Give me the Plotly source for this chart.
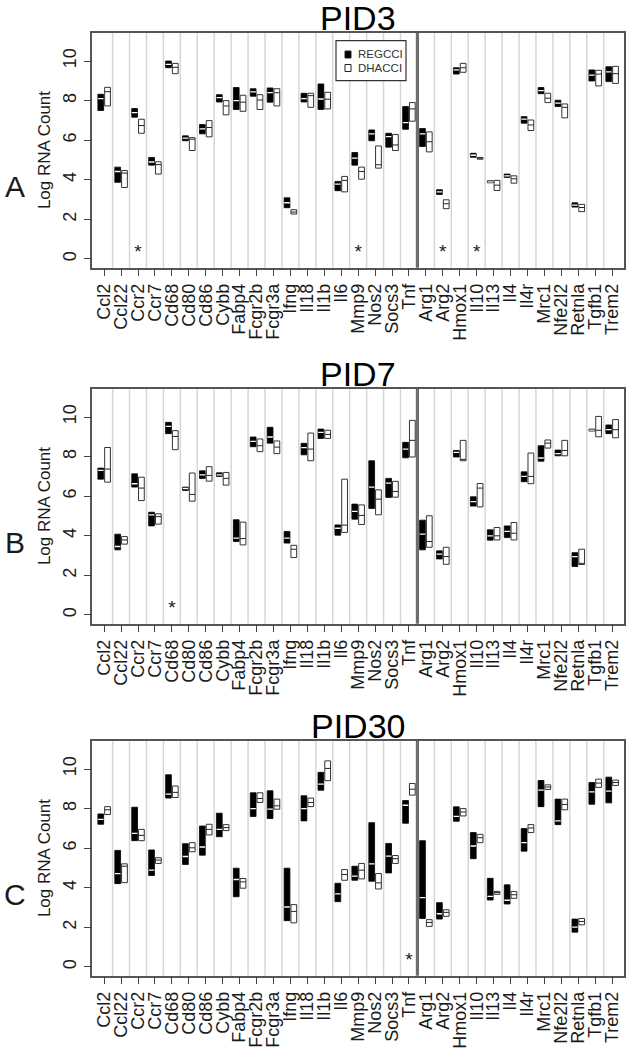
import plotly.graph_objects as go

genes = ["Ccl2", "Ccl22", "Ccr2", "Ccr7", "Cd68", "Cd80", "Cd86", "Cybb", "Fabp4",
         "Fcgr2b", "Fcgr3a", "Ifng", "Il18", "Il1b", "Il6", "Mmp9", "Nos2", "Socs3",
         "Tnf", "Arg1", "Arg2", "Hmox1", "Il10", "Il13", "Il4", "Il4r", "Mrc1",
         "Nfe2l2", "Retnla", "Tgfb1", "Trem2"]
n_m1 = 19  # genes left of the separator

# PID3
pid3_reg_low = [7.50, 3.87, 7.16, 4.74, 9.66, 5.97, 6.32, 7.93, 7.55, 8.22, 7.92, 2.59, 7.93, 7.55, 3.45, 4.74, 5.97, 5.65, 6.55, 5.68, 3.26, 9.34, 5.14, 3.85, 4.12, 6.86, 8.35, 7.70, 2.62, 8.99, 8.96]
pid3_reg_med = [8.10, 4.42, 7.39, 4.90, 9.83, 6.10, 6.57, 8.15, 8.00, 8.44, 8.40, 2.84, 8.10, 8.08, 3.78, 5.09, 6.32, 6.18, 6.89, 6.32, 3.39, 9.55, 5.24, 3.90, 4.20, 7.06, 8.50, 7.87, 2.72, 9.29, 9.45]
pid3_reg_high = [8.32, 4.64, 7.60, 5.13, 10.00, 6.22, 6.79, 8.30, 8.66, 8.60, 8.64, 3.09, 8.37, 8.84, 3.92, 5.38, 6.52, 6.35, 7.70, 6.59, 3.50, 9.66, 5.34, 3.95, 4.29, 7.19, 8.66, 8.02, 2.84, 9.55, 9.71]
pid3_dha_low = [7.73, 3.61, 6.35, 4.29, 9.36, 5.48, 6.17, 7.28, 7.46, 7.55, 7.73, 2.27, 7.66, 7.58, 3.39, 4.03, 4.59, 5.48, 6.96, 5.41, 2.54, 9.43, 5.04, 3.46, 3.83, 6.49, 7.90, 7.13, 2.39, 8.74, 8.87]
pid3_dha_med = [8.45, 4.34, 6.74, 4.77, 9.68, 6.05, 6.64, 7.73, 7.92, 8.03, 8.40, 2.37, 8.25, 8.07, 3.97, 4.42, 4.76, 5.76, 7.58, 5.92, 2.79, 9.66, 5.09, 3.73, 4.05, 6.77, 8.12, 7.66, 2.60, 9.34, 9.36]
pid3_dha_high = [8.67, 4.47, 7.06, 4.91, 9.88, 6.13, 6.99, 8.00, 8.27, 8.30, 8.60, 2.49, 8.37, 8.42, 4.17, 4.64, 5.71, 6.29, 7.90, 6.42, 2.99, 9.88, 5.13, 3.97, 4.20, 7.02, 8.37, 7.83, 2.76, 9.53, 9.73]
pid3_stars = ["Ccr2", "Mmp9", "Arg2", "Il10"]

# PID7
pid7_reg_low = [6.86, 3.29, 6.46, 4.50, 9.16, 6.29, 6.90, 7.00, 3.71, 8.50, 8.68, 3.63, 8.09, 8.92, 4.03, 4.84, 5.38, 5.94, 7.94, 3.29, 2.83, 7.98, 5.50, 3.78, 3.91, 6.73, 7.77, 8.04, 2.45, 9.29, 9.16]
pid7_reg_med = [7.30, 3.46, 6.63, 5.06, 9.53, 6.39, 7.08, 7.08, 3.88, 8.77, 8.99, 3.88, 8.45, 9.22, 4.38, 5.23, 6.46, 6.66, 8.38, 4.08, 3.07, 8.21, 5.73, 4.00, 4.22, 7.00, 7.93, 8.15, 2.95, 9.34, 9.36]
pid7_reg_high = [7.42, 4.08, 7.13, 5.19, 9.73, 6.46, 7.28, 7.18, 4.81, 8.99, 9.48, 4.22, 8.67, 9.39, 4.55, 5.60, 7.79, 6.90, 8.72, 4.79, 3.24, 8.31, 5.97, 4.30, 4.50, 7.23, 8.55, 8.33, 3.15, 9.39, 9.60]
pid7_dha_low = [6.71, 3.58, 5.78, 4.59, 8.35, 5.75, 6.76, 6.56, 3.54, 8.25, 8.15, 2.90, 7.79, 8.92, 4.17, 4.57, 5.06, 5.95, 7.98, 3.42, 2.56, 7.79, 5.46, 3.79, 3.79, 6.63, 8.43, 8.04, 2.55, 9.00, 8.95]
pid7_dha_med = [7.37, 3.79, 6.41, 4.97, 9.02, 6.09, 7.05, 6.90, 3.86, 8.55, 8.48, 3.32, 8.38, 9.12, 4.54, 5.03, 5.85, 6.24, 8.82, 3.71, 2.95, 7.86, 6.41, 4.00, 4.13, 7.00, 8.68, 8.31, 2.61, 9.33, 9.36]
pid7_dha_high = [8.46, 3.96, 6.96, 5.11, 9.31, 7.17, 7.49, 7.20, 4.69, 8.89, 8.79, 3.52, 9.19, 9.33, 6.86, 5.56, 6.32, 6.75, 9.83, 5.01, 3.42, 8.82, 6.64, 4.42, 4.67, 8.18, 8.84, 8.82, 3.32, 10.03, 9.87]
pid7_stars = ["Cd68"]

# PID30
pid30_reg_low = [7.21, 4.21, 6.38, 4.62, 8.53, 5.18, 5.65, 6.58, 3.55, 7.60, 7.50, 2.34, 7.38, 8.93, 3.30, 4.38, 4.33, 4.75, 7.26, 2.45, 2.42, 7.36, 5.47, 3.38, 3.18, 5.85, 8.10, 7.19, 1.76, 8.22, 8.29]
pid30_reg_med = [7.46, 4.72, 6.75, 4.89, 8.73, 5.58, 6.06, 6.95, 4.42, 8.00, 7.97, 3.03, 8.00, 9.24, 3.69, 4.59, 5.21, 5.60, 8.17, 3.50, 2.69, 7.61, 6.11, 3.57, 3.37, 6.28, 8.93, 7.38, 2.01, 8.85, 8.88]
pid30_reg_high = [7.73, 5.89, 8.07, 5.91, 9.71, 6.23, 7.12, 7.77, 4.99, 8.80, 8.90, 4.99, 8.65, 9.83, 4.23, 5.09, 7.29, 6.24, 8.41, 6.38, 3.25, 8.09, 6.79, 4.48, 4.15, 6.99, 9.42, 8.48, 2.42, 9.32, 9.59]
pid30_dha_low = [7.70, 4.26, 6.38, 5.23, 8.56, 5.82, 6.67, 6.89, 3.98, 8.31, 7.97, 2.23, 8.10, 9.41, 4.38, 4.45, 3.94, 5.23, 8.68, 2.05, 2.56, 7.63, 6.28, 3.67, 3.47, 6.79, 8.97, 7.94, 2.13, 9.07, 9.17]
pid30_dha_med = [7.94, 5.09, 6.65, 5.40, 8.82, 6.02, 6.95, 7.04, 4.30, 8.51, 8.14, 2.81, 8.31, 10.03, 4.67, 4.89, 4.25, 5.47, 8.98, 2.25, 2.76, 7.83, 6.53, 3.76, 3.65, 7.02, 9.09, 8.21, 2.30, 9.29, 9.32]
pid30_dha_high = [8.10, 5.21, 6.95, 5.52, 9.14, 6.28, 7.21, 7.19, 4.47, 8.80, 8.48, 3.15, 8.53, 10.41, 4.92, 5.23, 4.72, 5.63, 9.27, 2.39, 2.89, 8.00, 6.70, 3.82, 3.81, 7.19, 9.20, 8.48, 2.45, 9.49, 9.44]
pid30_stars = ["Tnf"]

panel_titles = ["PID3", "PID7", "PID30"]
panel_letters = ["A", "B", "C"]
y_ticks = [0, 2, 4, 6, 8, 10]
legend_labels = ["REGCCI", "DHACCI"]

panels = [
    (pid3_reg_low, pid3_reg_med, pid3_reg_high, pid3_dha_low, pid3_dha_med, pid3_dha_high, pid3_stars),
    (pid7_reg_low, pid7_reg_med, pid7_reg_high, pid7_dha_low, pid7_dha_med, pid7_dha_high, pid7_stars),
    (pid30_reg_low, pid30_reg_med, pid30_reg_high, pid30_dha_low, pid30_dha_med, pid30_dha_high, pid30_stars),
]

W, H = 631, 1050
FONT = "Liberation Sans, Arial, Helvetica, sans-serif"
TXT = "#1a1a1a"
pos = list(range(1, len(genes) + 1))
OFF = 0.2
BW = 0.34
HALF = 0.16

# pixel layout of plot boxes (top, bottom)
boxes_px = [(32.5, 267.7), (388.5, 623.7), (740.5, 975.7)]
x_dom = [92.3 / W, 624.0 / W]

fig = go.Figure()
layout = dict(width=W, height=H, margin=dict(l=0, r=0, t=0, b=0),
              paper_bgcolor="white", plot_bgcolor="white", barmode="overlay",
              showlegend=False, font=dict(family=FONT, color=TXT))
shapes = []
annotations = []

for k, (rl, rm, rh, dl, dm, dh, stars) in enumerate(panels):
    sfx = "" if k == 0 else str(k + 1)
    xa, ya = "x" + sfx, "y" + sfx
    top, bot = boxes_px[k]
    layout["xaxis" + sfx] = dict(
        domain=x_dom, range=[0.3, len(genes) + 0.7], anchor=ya,
        tickmode="array", tickvals=pos, ticktext=genes, tickangle=-90,
        tickfont=dict(size=18, color=TXT, family=FONT), ticks="outside", ticklen=7,
        tickcolor="#444", tickwidth=1, showgrid=False, zeroline=False,
        showline=True, mirror=True, linecolor="#555", linewidth=1.5)
    layout["yaxis" + sfx] = dict(
        domain=[1 - bot / H, 1 - top / H], range=[-0.44, 11.44], anchor=xa,
        tickmode="array", tickvals=y_ticks, ticktext=[str(v) for v in y_ticks],
        tickangle=-90, tickfont=dict(size=18, color=TXT, family=FONT),
        ticks="outside", ticklen=7, tickcolor="#444", tickwidth=1,
        ticklabelstandoff=0, showgrid=False, zeroline=False,
        showline=True, mirror=True, linecolor="#555", linewidth=1.5)

    # vertical separators between genes
    for b in range(1, len(genes)):
        xb = b + 0.5
        thick = (b == n_m1)
        shapes.append(dict(type="line", xref=xa, yref=ya + " domain", x0=xb, x1=xb,
                           y0=0, y1=1, layer="below",
                           line=dict(color="#6e6e6e" if thick else "#d6d6d6",
                                     width=3.2 if thick else 1.5)))

    xr = [p - OFF for p in pos]
    xd = [p + OFF for p in pos]
    fig.add_trace(go.Bar(x=xr, base=rl, y=[h - l for h, l in zip(rh, rl)], width=BW,
                         marker=dict(color="black", line=dict(color="black", width=0.8)),
                         name=legend_labels[0], xaxis=xa, yaxis=ya, hoverinfo="skip"))
    fig.add_trace(go.Bar(x=xd, base=dl, y=[h - l for h, l in zip(dh, dl)], width=BW,
                         marker=dict(color="white", line=dict(color="#333", width=1)),
                         name=legend_labels[1], xaxis=xa, yaxis=ya, hoverinfo="skip"))
    # median lines
    mx_r, my_r, mx_d, my_d = [], [], [], []
    for x0, m in zip(xr, rm):
        mx_r += [x0 - HALF, x0 + HALF, None]
        my_r += [m, m, None]
    for x0, m in zip(xd, dm):
        mx_d += [x0 - HALF, x0 + HALF, None]
        my_d += [m, m, None]
    fig.add_trace(go.Scatter(x=mx_r, y=my_r, mode="lines", line=dict(color="white", width=1.3),
                             xaxis=xa, yaxis=ya, hoverinfo="skip"))
    fig.add_trace(go.Scatter(x=mx_d, y=my_d, mode="lines", line=dict(color="#222", width=1),
                             xaxis=xa, yaxis=ya, hoverinfo="skip"))
    # significance stars
    fig.add_trace(go.Scatter(x=[genes.index(g) + 1 for g in stars], y=[0.3] * len(stars),
                             mode="text", text=["*"] * len(stars),
                             textfont=dict(size=19, color=TXT, family=FONT),
                             xaxis=xa, yaxis=ya, hoverinfo="skip"))

    cy = (top + bot) / 2
    annotations.append(dict(text=panel_titles[k], xref="paper", yref="paper",
                            x=(x_dom[0] + x_dom[1]) / 2, y=1 - (top - 34.5) / H,
                            xanchor="center", yanchor="top", showarrow=False, borderpad=0,
                            font=dict(size=34, color="black", family=FONT)))
    annotations.append(dict(text="Log RNA Count", xref="paper", yref="paper",
                            x=44 / W, y=1 - cy / H, textangle=-90,
                            xanchor="center", yanchor="middle", showarrow=False,
                            font=dict(size=17, color=TXT, family=FONT)))
    annotations.append(dict(text=panel_letters[k], xref="paper", yref="paper",
                            x=15 / W, y=1 - (cy + 36) / H,
                            xanchor="center", yanchor="middle", showarrow=False,
                            font=dict(size=30, color=TXT, family=FONT)))

# legend box drawn in pixel positions of panel A
leg_x0, leg_x1, leg_y0, leg_y1 = 336, 406, 40.7, 80.7
shapes.append(dict(type="rect", xref="paper", yref="paper",
                   x0=leg_x0 / W, x1=leg_x1 / W, y0=1 - leg_y1 / H, y1=1 - leg_y0 / H,
                   fillcolor="white", line=dict(color="#333", width=1.2), layer="above"))
for i, (lab, fc) in enumerate(zip(legend_labels, ["black", "white"])):
    cy = 54.5 + i * 13.5
    shapes.append(dict(type="rect", xref="paper", yref="paper",
                       x0=(348 - 3) / W, x1=(348 + 3) / W, y0=1 - (cy + 3.5) / H, y1=1 - (cy - 3.5) / H,
                       fillcolor=fc, line=dict(color="#222", width=1), layer="above"))
    annotations.append(dict(text=lab, xref="paper", yref="paper", x=356 / W, y=1 - cy / H,
                            xanchor="left", yanchor="middle", showarrow=False,
                            font=dict(size=11.5, color="#333", family=FONT)))

layout["shapes"] = shapes
layout["annotations"] = annotations
fig.update_layout(**layout)
fig.write_html("out.html", config={"displayModeBar": False},
               post_script="document.body.style.margin='0';document.body.style.overflow='hidden';")
